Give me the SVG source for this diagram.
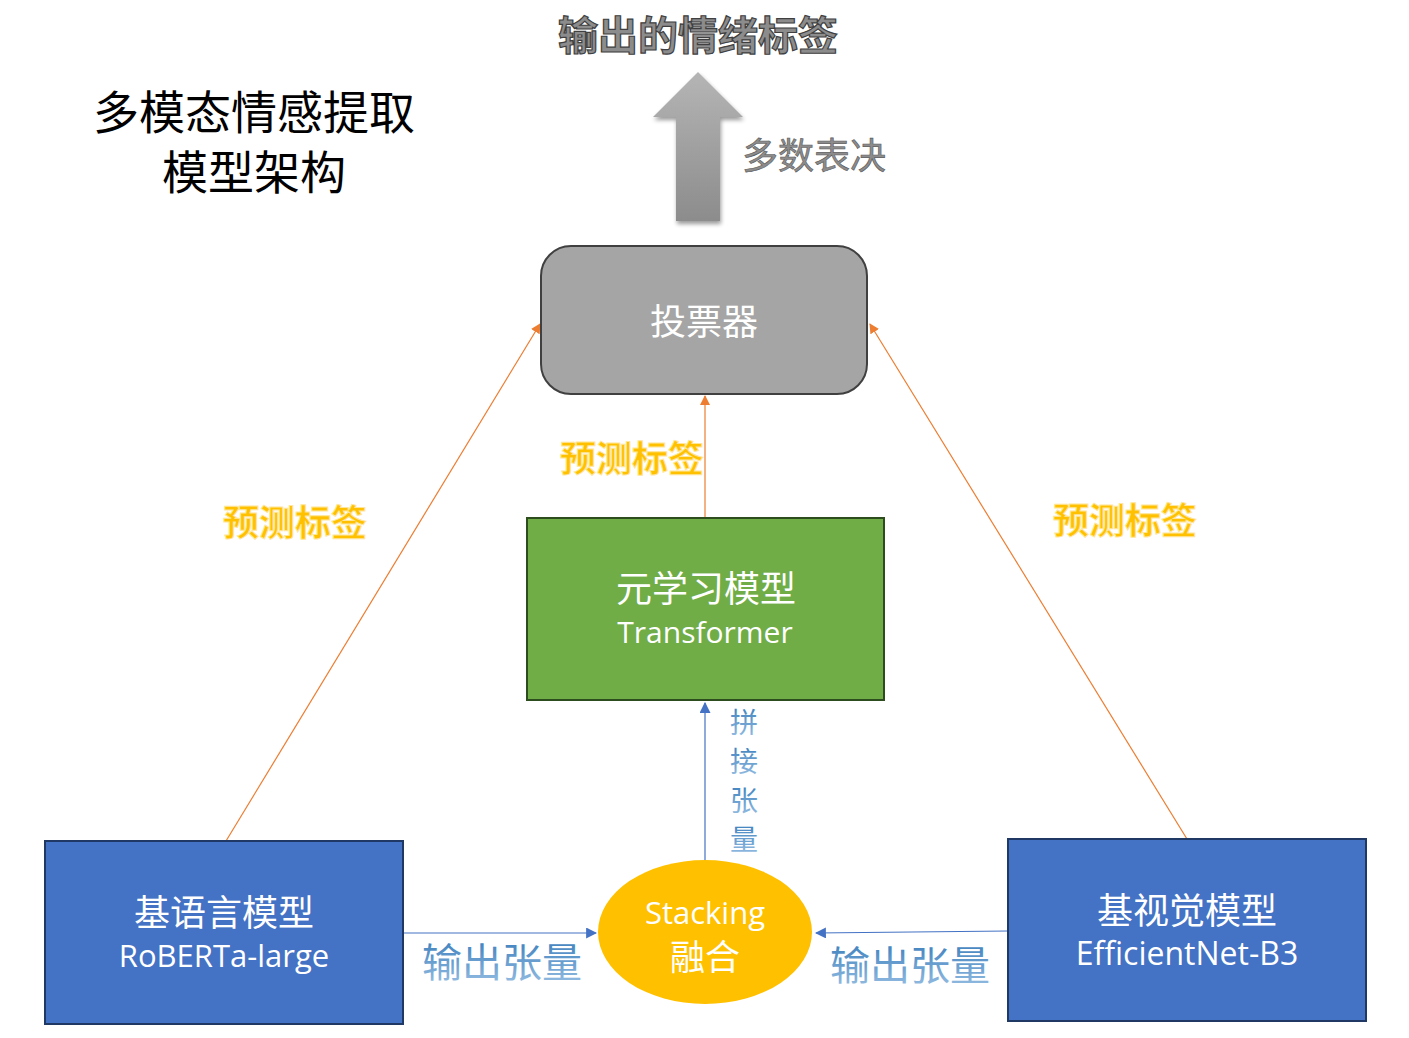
<svg xmlns="http://www.w3.org/2000/svg" width="1409" height="1038" viewBox="0 0 1409 1038">
<defs>
<style>
.cjk{font-family:"Noto Sans CJK SC","Noto Sans",sans-serif}
.lat{font-family:"Open Sans","Noto Sans CJK SC",sans-serif}
.white{fill:#ffffff}
.pred{font-family:"Noto Sans CJK SC",sans-serif;font-size:36px;font-weight:bold;fill:#ffc000;stroke:#ffe699;stroke-width:1;text-anchor:middle}
.tensor{font-family:"Noto Sans CJK SC",sans-serif;fill:url(#blueg);text-anchor:middle}
.oline{stroke:#ed7d31;stroke-width:1.2;fill:none}
.bline{stroke:#4472c4;stroke-width:1.2;fill:none}
</style>
<linearGradient id="arrowg" x1="0" y1="0" x2="0" y2="1">
<stop offset="0" stop-color="#b5b5b5"/>
<stop offset="1" stop-color="#8c8c8c"/>
</linearGradient>
<linearGradient id="blueg" x1="0" y1="0" x2="0" y2="1">
<stop offset="0" stop-color="#2e75b6"/>
<stop offset="1" stop-color="#9dc3e6"/>
</linearGradient>
<filter id="sh" x="-20%" y="-20%" width="140%" height="140%">
<feGaussianBlur in="SourceAlpha" stdDeviation="2"/>
<feOffset dx="1" dy="3"/>
<feComponentTransfer><feFuncA type="linear" slope="0.4"/></feComponentTransfer>
<feMerge><feMergeNode/><feMergeNode in="SourceGraphic"/></feMerge>
</filter>
<marker id="ao" viewBox="0 0 10 10" refX="9" refY="5" markerWidth="10" markerHeight="10" markerUnits="userSpaceOnUse" orient="auto">
<path d="M0,0 L10,5 L0,10 z" fill="#ed7d31"/>
</marker>
<marker id="ab" viewBox="0 0 10 10" refX="9" refY="5" markerWidth="11" markerHeight="11" markerUnits="userSpaceOnUse" orient="auto">
<path d="M0,0 L10,5 L0,10 z" fill="#4472c4"/>
</marker>
</defs>
<rect width="1409" height="1038" fill="#ffffff"/>

<g id="title">
<text class="cjk" font-size="46" text-anchor="middle" fill="#000000"><tspan x="254" y="129">多模态情感提取</tspan><tspan x="254" y="189">模型架构</tspan></text>
</g>

<g id="output-label">
<text class="cjk" x="698" y="50" font-size="40" font-weight="bold" text-anchor="middle" fill="#8c8c8c" stroke="#404040" stroke-width="1.2">输出的情绪标签</text>
</g>

<g id="vote-arrow" filter="url(#sh)">
<path d="M698,72 L743,117 L720,117 L720,221 L676,221 L676,117 L653,117 Z" fill="url(#arrowg)"/>
</g>
<g id="majority-label">
<text class="cjk" x="814" y="169" font-size="36" text-anchor="middle" fill="#8c8c8c" stroke="#595959" stroke-width="0.6">多数表决</text>
</g>

<g id="connectors">
<line class="oline" x1="226" y1="841" x2="540" y2="324" marker-end="url(#ao)"/>
<line class="oline" x1="1187" y1="839" x2="870" y2="324" marker-end="url(#ao)"/>
<line class="oline" x1="705" y1="517" x2="705" y2="396" marker-end="url(#ao)"/>
<line class="bline" x1="705" y1="860" x2="705" y2="703" marker-end="url(#ab)"/>
<line class="bline" x1="404" y1="933" x2="596" y2="933" marker-end="url(#ab)"/>
<line class="bline" x1="1008" y1="931" x2="816" y2="933" marker-end="url(#ab)"/>
</g>

<g id="voter">
<rect x="541" y="246" width="326" height="148" rx="30" ry="30" fill="#a5a5a5" stroke="#404040" stroke-width="2"/>
<text class="cjk white" x="704" y="335" font-size="36" text-anchor="middle">投票器</text>
</g>

<g id="meta-model">
<rect x="527" y="518" width="357" height="182" fill="#70ad47" stroke="#2e4d1e" stroke-width="2"/>
<text class="cjk white" x="706" y="602" font-size="36" text-anchor="middle">元学习模型</text>
<text class="lat white" x="705" y="643" font-size="30" text-anchor="middle">Transformer</text>
</g>

<g id="language-model">
<rect x="45" y="841" width="358" height="183" fill="#4472c4" stroke="#1f3864" stroke-width="2"/>
<text class="cjk white" x="224" y="926" font-size="36" text-anchor="middle">基语言模型</text>
<text class="lat white" x="224" y="967" font-size="31" text-anchor="middle">RoBERTa-large</text>
</g>

<g id="vision-model">
<rect x="1008" y="839" width="358" height="182" fill="#4472c4" stroke="#1f3864" stroke-width="2"/>
<text class="cjk white" x="1187" y="924" font-size="36" text-anchor="middle">基视觉模型</text>
<text class="lat white" x="1187" y="965" font-size="32" text-anchor="middle">EfficientNet-B3</text>
</g>

<g id="stacking">
<ellipse cx="705" cy="932" rx="107" ry="72" fill="#ffc000"/>
<text class="lat white" x="705" y="924" font-size="31" text-anchor="middle">Stacking</text>
<text class="cjk white" x="705" y="970" font-size="35" text-anchor="middle">融合</text>
</g>

<g id="labels">
<text class="pred" x="295" y="536">预测标签</text>
<text class="pred" x="632" y="472">预测标签</text>
<text class="pred" x="1125" y="534">预测标签</text>
<text class="tensor" x="502" y="977" font-size="40">输出张量</text>
<text class="tensor" x="910" y="980" font-size="40">输出张量</text>
<text class="tensor" x="744" y="733" font-size="28">拼</text>
<text class="tensor" x="744" y="772" font-size="28">接</text>
<text class="tensor" x="744" y="811" font-size="28">张</text>
<text class="tensor" x="744" y="850" font-size="28">量</text>
</g>
</svg>
